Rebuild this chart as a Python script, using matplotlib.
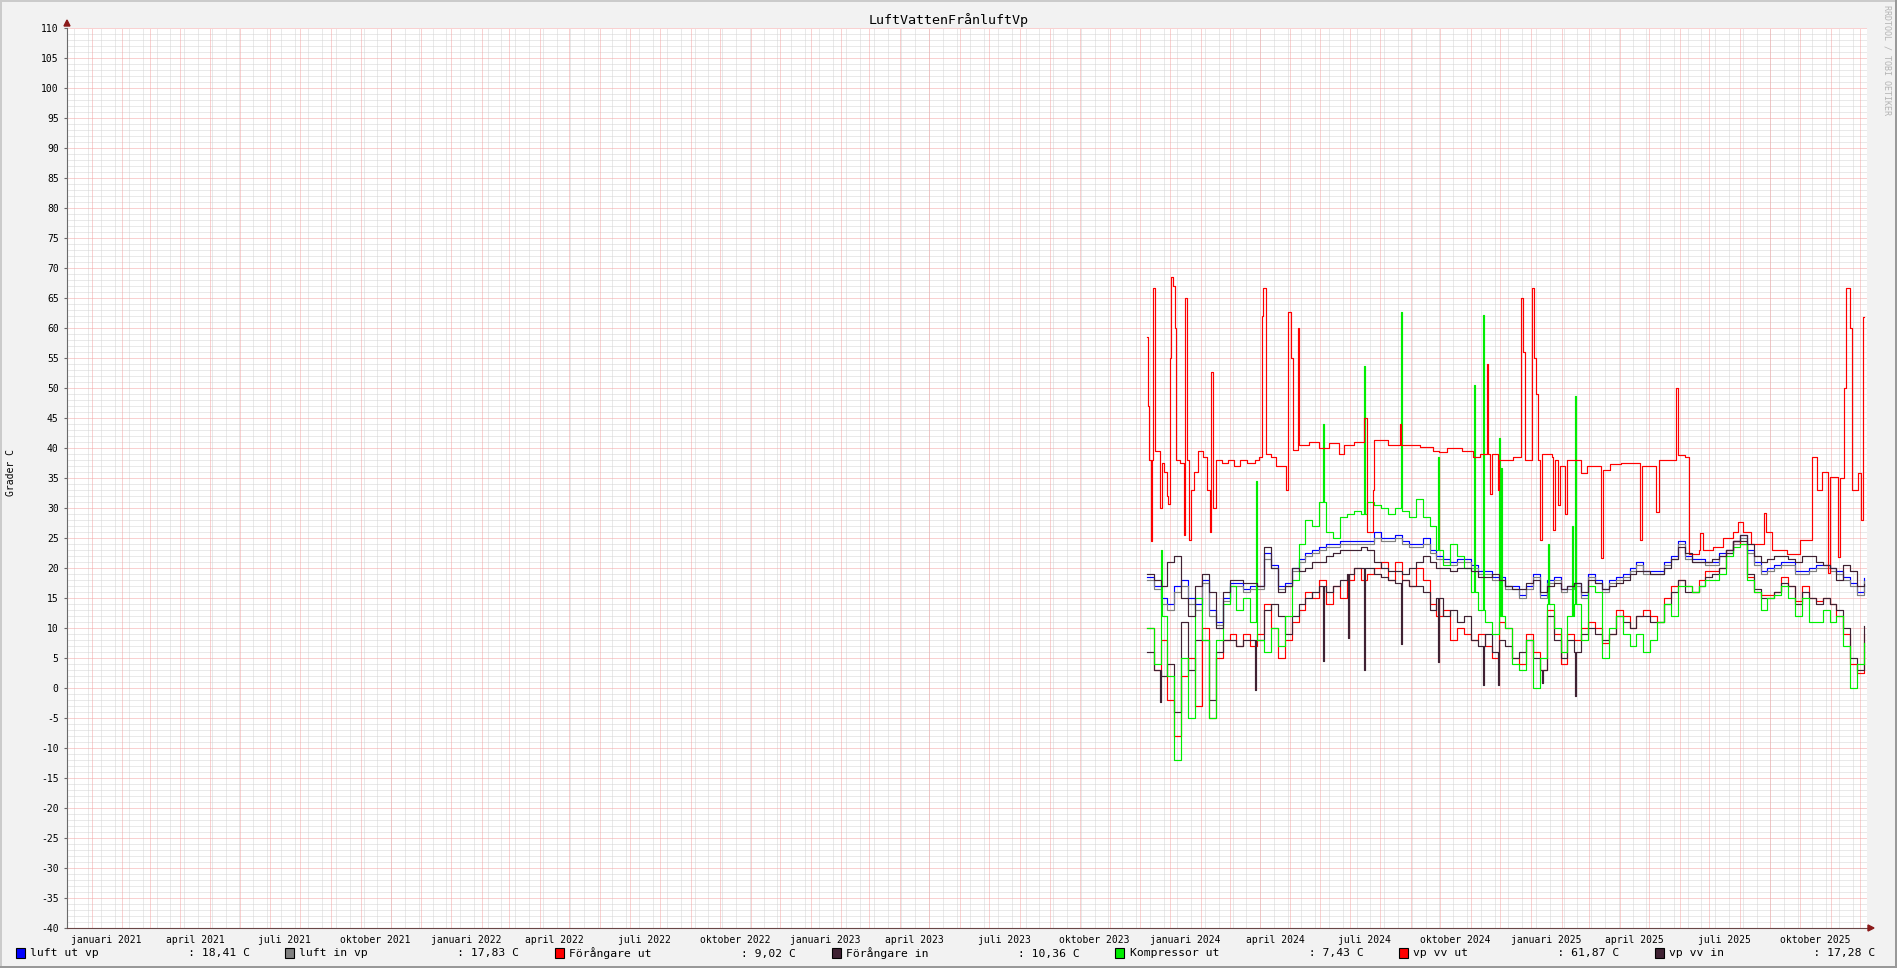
import numpy as np
import pandas as pd
import matplotlib
matplotlib.use("Agg")
import matplotlib.pyplot as plt
from matplotlib.patches import Rectangle, Polygon

# ---- data ------------------------------------------------------------------
origin = pd.Timestamp("2020-12-07")      # left edge of the graph
end = pd.Timestamp("2025-12-08")         # right edge
data_start = pd.Timestamp("2023-12-08")  # first sample

# weekly samples, k = 0..104, day = 7*k after data_start
luft_ut_vp = [18.5, 17, 15, 14, 17, 18, 15, 14, 18, 13,
              11, 15, 17.5, 17.5, 16.5, 17, 17, 22.5, 20.5, 17,
              17.5, 20, 21.5, 22.5, 23, 23.5, 24, 24, 24.5, 24.5,
              24.5, 24.5, 24.5, 26, 25, 25, 25.5, 24.5, 24, 24,
              25, 23, 22, 21.5, 21, 21.5, 21.5, 20.5, 19.5, 19.5,
              18.5, 18.5, 17, 17, 15.5, 17, 19, 15.5, 18, 18.5,
              16.5, 17, 17.5, 15.5, 19, 18, 16.5, 18, 18.5, 19,
              20, 21, 19.5, 19.5, 19.5, 21, 22, 24.5, 22, 21.5,
              21.5, 21, 21, 22.5, 23, 24.5, 25.5, 23, 21, 19.5,
              20, 20.5, 21, 21, 19.5, 19.5, 20, 20.5, 20.5, 20,
              19.5, 18.5, 17.5, 16, 18.41]
luft_in_vp = [18, 16.5, 14, 13, 16, 17, 14, 13, 17.5, 12,
              10.5, 14.5, 17, 17, 16, 16.5, 16.5, 21.5, 20, 16.5,
              17, 19.5, 21, 22, 22.5, 23, 23.5, 23.5, 24, 24,
              24, 24, 24, 25, 24.5, 24.5, 25, 24, 23.5, 23.5,
              24, 22.5, 21.5, 21, 20.5, 21, 21, 20, 19, 19,
              18, 18, 16.5, 16.5, 15, 16.5, 18.5, 15, 17.5, 18,
              16, 16.5, 17, 15, 18.5, 17.5, 16, 17.5, 18, 18.5,
              19.5, 20.5, 19, 19, 19, 20.5, 21.5, 24, 21.5, 21,
              21, 20.5, 20.5, 22, 22.5, 24, 25, 22.5, 20.5, 19,
              19.5, 20, 20.5, 20.5, 19, 19, 19.5, 20, 20, 19.5,
              19, 18, 17, 15.5, 17.83]
forangare_ut = [10, 3, 8, -2, -8, 2, 5, -3, 10, -5,
                5, 8, 9, 7, 9, 7, 9, 14, 10, 5,
                8, 11, 13, 16, 15, 18, 14, 17, 15, 18,
                20, 18, 19, 20, 21, 18, 21, 18, 17, 20,
                18, 14, 12, 13, 8, 10, 9, 8, 9, 7,
                5, 11, 10, 5, 4, 9, 6, 3, 13, 9,
                4, 9, 8, 10, 11, 10, 7.5, 9, 13, 12,
                10, 12, 13, 12, 11, 15, 17, 18, 17, 16,
                18, 19.5, 19.5, 20, 23, 24.5, 24, 18.5, 16, 15.5,
                15.5, 16, 18.5, 17, 14.5, 17, 15, 14.5, 15, 14,
                12, 9, 4, 2.5, 9.02]
forangare_in = [6, 3, 2, 4, -4, 11, 3, 8, 8, -2,
                6, 8, 8, 7, 8, 8, 8, 13, 14, 12,
                9, 12, 14, 15, 16, 17, 16, 17, 18, 19,
                20, 20, 20, 19, 18.5, 18, 17.5, 18, 17, 17,
                16, 13, 15, 12, 13, 11, 12, 8, 7, 9,
                6, 8, 7, 5, 6, 8, 5, 3, 12, 8,
                5, 8, 6, 9, 10, 9, 8, 9, 12, 11,
                10, 12, 12, 11, 11, 14, 16, 18, 16, 16,
                17, 18.5, 19, 20, 22.5, 24.5, 24.5, 19, 16.5, 15,
                15, 16, 17.5, 17, 14, 16, 15, 14, 15, 14,
                13, 10, 5, 3, 10.36]
kompressor_ut = [10, 4, 12, 2, -12, 5, -5, 15, 8, -5,
                 8, 14, 17, 13, 15, 11, 8, 6, 10, 7,
                 12, 18, 24, 28, 27, 31, 26, 25, 28.5, 29,
                 29.5, 29, 31, 30.5, 30, 29, 30, 29.5, 28.5, 31.5,
                 28.5, 27, 23, 20.5, 24, 22, 20, 16, 13, 11,
                 9, 12, 10, 4, 3, 8, 0, 5, 14, 10,
                 6, 12, 14, 8, 17, 16, 5, 10, 12, 9,
                 7, 9, 6, 8, 11, 14, 12, 17, 17, 16,
                 17, 18, 18, 19, 22, 23.5, 24, 18, 16, 13,
                 15, 15.5, 17, 15, 12, 15, 11, 11, 13, 11,
                 12, 7, 0, 4, 7.43]
vp_vv_in = [19, 18, 17, 21, 22, 15, 12, 17, 19, 16,
            10, 16, 18, 18, 17.5, 17.5, 17, 23.5, 20, 16,
            17, 20, 19.5, 20, 21, 21, 22, 22.5, 23, 23,
            23, 23.5, 23, 21, 20, 19.5, 19.5, 19, 20, 21,
            22, 21, 20, 20, 19.5, 20, 20, 19.5, 18.5, 18.5,
            19, 18, 17, 16.5, 16.5, 17.5, 18, 16, 17, 17.5,
            16.5, 17, 17.5, 16, 18, 17.5, 16.5, 17, 17.5, 18,
            19, 19.5, 19.5, 19, 19, 20, 21.5, 23.5, 22.5, 21,
            21, 21, 21.5, 22, 23, 24.5, 25.5, 24, 22, 21,
            21.5, 22, 22, 21.5, 21, 22, 22, 21, 20.5, 20,
            18, 20.5, 19.5, 17, 17.28]

# short one-day excursions (day after data_start, value)
kompr_spike_days = [14, 111, 179, 220, 258, 296, 332, 341, 357, 360, 407, 432, 435]
kompr_spike_vals = [23, 34.5, 44, 53.6, 62.7, 38.5, 50.5, 62.2, 41.6, 36.6, 24, 27, 48.6]
fin_spike_days = [13, 110, 179, 204, 220, 258, 296, 341, 356, 401, 435]
fin_spike_vals = [-2.3, -0.3, 4.5, 8.3, 3, 7.4, 4.4, 0.5, 0.5, 0.8, -1.4]

# vp vv ut, irregular samples (day after data_start, value)
vvut_days = [0, 1, 2, 4, 5, 6, 8, 13, 15, 17, 20, 22, 24, 25, 27, 29, 30, 34,
             38, 39, 41, 43, 45, 48, 52, 57, 61, 64, 65, 67, 70, 76, 82, 88, 95,
             102, 110, 114, 117, 118, 121, 126, 131, 141, 143, 146, 148, 153, 154,
             165, 175, 185, 195, 200, 210, 220, 223, 224, 230, 231, 245, 257, 258,
             270, 277, 290, 297, 305, 311, 320, 331, 338, 345, 346, 348, 350, 356,
             357, 372, 380, 382, 384, 391, 393, 395, 397, 399, 401, 411, 412, 414,
             417, 419, 424, 426, 441, 447, 461, 463, 470, 481, 501, 503, 517, 520,
             537, 539, 546, 550, 560, 561, 565, 575, 585, 595, 600, 605, 613, 626,
             628, 635, 650, 663, 675, 680, 685, 691, 693, 702, 704, 708, 710, 714,
             716, 722, 725, 727]
vvut_vals = [58.5, 47, 38, 24.5, 38, 66.6, 39.5, 30, 37.5, 36, 32, 30.6, 55, 68.5,
             67, 60, 38, 37.5, 25.5, 65, 38, 24.7, 33, 36, 39.5, 38.5, 33, 26, 52.7,
             30, 38, 37.5, 38, 37, 38, 37.5, 38, 38.5, 62, 66.6, 39, 38.5, 37, 33,
             62.7, 55, 39.7, 60, 40.5, 41, 40, 40.8, 39, 40.5, 41, 45, 39, 26, 33,
             41.3, 40.5, 44, 40.5, 40.5, 40.2, 39.5, 39.4, 40, 40, 39.5, 38.5, 39,
             54, 39, 32.4, 39, 33, 38, 38.5, 65, 56, 38, 66.6, 55, 49, 38, 24.7, 39,
             38.5, 26.3, 38, 30.5, 37, 29, 38, 35.8, 37, 21.6, 36.3, 37.4, 37.5,
             24.7, 37, 29.4, 38, 50, 38.8, 38.5, 22.4, 23, 25.8, 23, 23.5, 25, 26,
             27.7, 26, 24, 29.1, 26, 23, 22.4, 24.7, 38.5, 33, 36, 19.1, 35.2, 21.9,
             35, 50, 66.6, 60, 33, 35.8, 28, 61.87]

names = ["luft ut vp", "luft in vp", "Förångare ut", "Förångare in",
         "Kompressor ut", "vp vv ut", "vp vv in"]
last_vals = ["18,41", "17,83", "9,02", "10,36", "7,43", "61,87", "17,28"]
colors = ["#0000ff", "#808080", "#ff0000", "#3f2233", "#00ee00", "#ff0000", "#3f2233"]

tick_labels = ["januari 2021", "april 2021", "juli 2021", "oktober 2021",
               "januari 2022", "april 2022", "juli 2022", "oktober 2022",
               "januari 2023", "april 2023", "juli 2023", "oktober 2023",
               "januari 2024", "april 2024", "juli 2024", "oktober 2024",
               "januari 2025", "april 2025", "juli 2025", "oktober 2025"]

# ---- helpers ---------------------------------------------------------------
W, H = 1897, 968
L, T, R, B = 67, 28, 1867, 928
off = (data_start - origin).days
week_days = np.arange(len(luft_ut_vp)) * 7


def add_spikes(days, vals, sdays, svals):
    days = list(days)
    vals = list(vals)
    for s, v in zip(sdays, svals):
        i = np.searchsorted(days, s, side="right") - 1
        base = vals[i]
        days = days[:i + 1] + [s, s + 1] + days[i + 1:]
        vals = vals[:i + 1] + [v, base] + vals[i + 1:]
    return np.array(days, float), np.array(vals, float)


def px(x, y):
    return (x / W, 1 - y / H)


mono = "DejaVu Sans Mono"
plt.rcParams["font.family"] = mono

fig = plt.figure(figsize=(W / 100, H / 100), dpi=100, facecolor="#f2f2f2")
ax = fig.add_axes([L / W, 1 - B / H, (R - L) / W, (B - T) / H])
ax.set_facecolor("white")
xmax = (end - origin).days
ax.set_xlim(0, xmax)
ax.set_ylim(-40, 110)

# grid
dot = (0, (1, 1))
minor_y = [v for v in range(-40, 111) if v % 5]
major_y = list(range(-40, 111, 5))
ax.hlines(minor_y, 0, xmax, colors="#d4d4d4", lw=0.72, linestyles=dot, zorder=1)
weeks = [(d - origin).days for d in pd.date_range("2020-12-14", end, freq="2W-MON")]
ax.vlines(weeks, -40, 110, colors="#d4d4d4", lw=0.72, linestyles=dot, zorder=1)
months = [(d - origin).days for d in pd.date_range(origin, end, freq="MS")]
ax.hlines(major_y, 0, xmax, colors="#f4a4a4", lw=0.72, linestyles=dot, zorder=2)
ax.vlines(months, -40, 110, colors="#f4a4a4", lw=0.72, linestyles=dot, zorder=2)

# series
series = [
    (week_days, luft_ut_vp),
    (week_days, luft_in_vp),
    (week_days, forangare_ut),
    add_spikes(week_days, forangare_in, fin_spike_days, fin_spike_vals),
    add_spikes(week_days, kompressor_ut, kompr_spike_days, kompr_spike_vals),
    (vvut_days, vvut_vals),
    (week_days, vp_vv_in),
]
for (d, v), c in zip(series, colors):
    d = np.append(np.asarray(d, float), 728) + off
    v = np.append(np.asarray(v, float), v[-1])
    ax.step(d, v, where="post", color=c, lw=0.85, zorder=5)

# axes
for s in ["top", "right"]:
    ax.spines[s].set_visible(False)
ax.spines["left"].set_color("#6a6a6a")
ax.spines["bottom"].set_color("#6a4646")
ax.set_yticks(major_y)
ax.set_yticklabels([str(v) for v in major_y])
quarters = pd.date_range("2021-01-01", "2025-10-01", freq="QS")
ax.set_xticks([(q - origin).days + 15 for q in quarters])
ax.set_xticklabels(tick_labels)
ax.tick_params(axis="y", length=2, width=0.8, color="#6a6a6a", pad=4, labelsize=7)
ax.tick_params(axis="x", length=0, pad=5, labelsize=7)

# arrows
arrow = "#8b1a1a"
fig.add_artist(Polygon([px(L - 3, 26), px(L + 3, 26), px(L, 20)], closed=True,
                       transform=fig.transFigure, color=arrow))
fig.add_artist(Polygon([px(R + 1, B - 3), px(R + 1, B + 3), px(R + 7, B)], closed=True,
                       transform=fig.transFigure, color=arrow))

# texts
fig.text(948.5 / W, 1 - 24 / H, "LuftVattenFrånluftVp", ha="center", va="baseline",
         fontsize=9.6)
fig.text(10.7 / W, 1 - 473 / H, "Grader C", rotation=90, ha="center", va="center",
         fontsize=7)
fig.text(1887 / W, 1 - 60 / H, "RRDTOOL / TOBI OETIKER", rotation=270, ha="center",
         va="center", fontsize=6, color="#b4b4b4")

# legend
legend_x = [15.6, 284.8, 554.5, 831.7, 1115, 1398.8, 1654.5]
for lx, name, val, c in zip(legend_x, names, last_vals, colors):
    fig.add_artist(Rectangle(px(lx, 958), 9 / W, 10 / H, transform=fig.transFigure,
                             facecolor=c, edgecolor="black", lw=0.8))
    fig.text((lx + 14.5) / W, 1 - 953 / H, name + " " * 13 + ": " + val + " C",
             ha="left", va="center", fontsize=8.2)

# 3d frame
fig.add_artist(Rectangle((0, 1 - 2 / H), 1, 2 / H, transform=fig.transFigure,
                         color="#cbcbcb", lw=0))
fig.add_artist(Rectangle((0, 0), 2 / W, 1, transform=fig.transFigure,
                         color="#cbcbcb", lw=0))
fig.add_artist(Rectangle((0, 0), 1, 2 / H, transform=fig.transFigure,
                         color="#999999", lw=0))
fig.add_artist(Rectangle((1 - 2 / W, 0), 2 / W, 1, transform=fig.transFigure,
                         color="#999999", lw=0))

fig.savefig("out.png", dpi=100, facecolor=fig.get_facecolor())
